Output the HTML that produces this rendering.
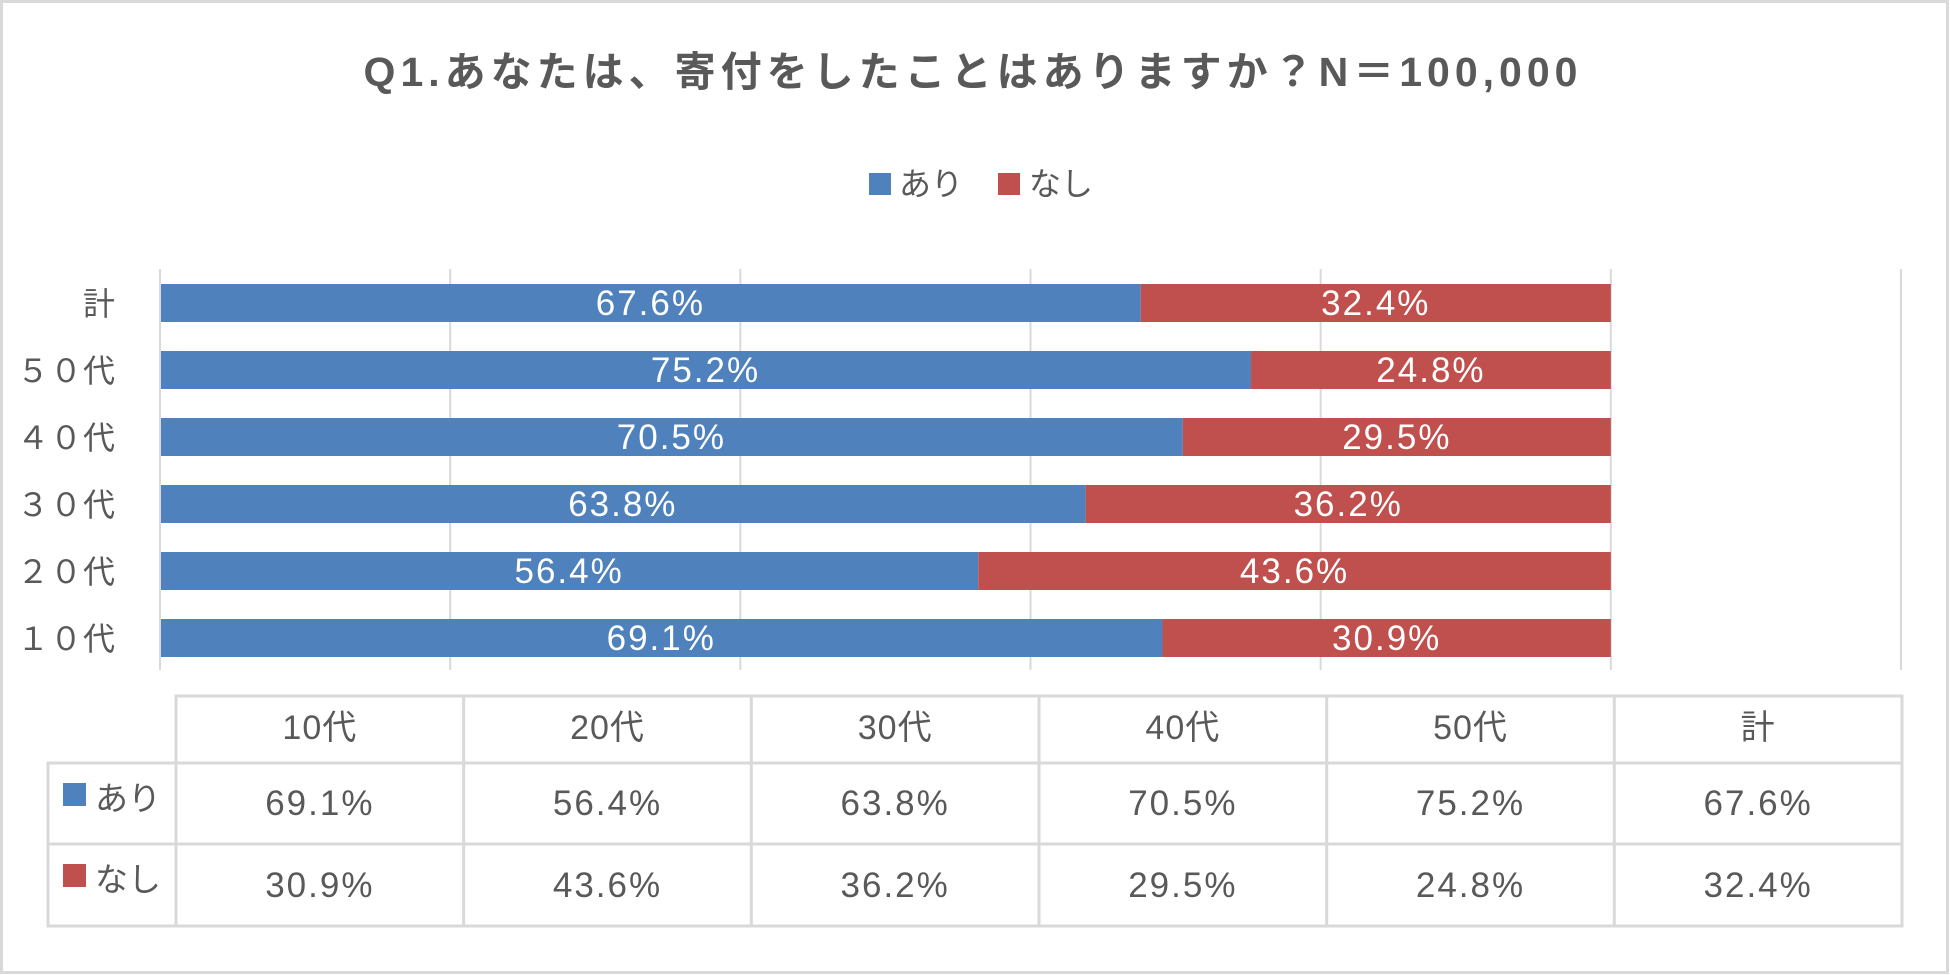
<!DOCTYPE html>
<html><head><meta charset="utf-8">
<style>
html,body{margin:0;padding:0;background:#fff;}
svg{display:block;font-family:"Liberation Sans","Noto Sans CJK JP",sans-serif;}
</style></head>
<body>
<svg id="chart" width="1950" height="975" viewBox="0 0 1950 975">
<rect x="1.5" y="1.5" width="1946" height="971" fill="#fff" stroke="#d9d9d9" stroke-width="3"/>
<text x="973" y="86" text-anchor="middle" font-size="41" font-weight="bold" fill="#595959" letter-spacing="5">Q1.あなたは、寄付をしたことはありますか？N＝100,000</text>
<g>
<rect x="869" y="173" width="22" height="22" fill="#4f81bd"/>
<text x="899" y="195" font-size="32" fill="#595959">あり</text>
<rect x="998" y="173" width="22" height="22" fill="#c0504d"/>
<text x="1029" y="195" font-size="32" fill="#595959">なし</text>
</g>
<g id="grid"></g>
<g id="bars"></g>
<g id="table"></g>
</svg>
<script>
const categories = ["計","５０代","４０代","３０代","２０代","１０代"];
const ariValues = [67.6,75.2,70.5,63.8,56.4,69.1];
const nashiValues = [32.4,24.8,29.5,36.2,43.6,30.9];
const tableCategories = ["10代","20代","30代","40代","50代","計"];
const tableAri = [69.1,56.4,63.8,70.5,75.2,67.6];
const tableNashi = [30.9,43.6,36.2,29.5,24.8,32.4];
const xTicks = [0,20,40,60,80,100,120];

const NS="http://www.w3.org/2000/svg";
const x0=160, x1=1901, xMax=120;
function xScale(v){return x0+(x1-x0)*v/xMax;}
const yTop=269, yBot=670, firstCenter=303, pitch=67, barH=38;
function yScale(i){return firstCenter+i*pitch;}
function mk(tag,attrs,parent){const e=document.createElementNS(NS,tag);for(const k in attrs)e.setAttribute(k,attrs[k]);parent.appendChild(e);return e;}

const grid=document.getElementById('grid');
xTicks.forEach(t=>{
  const l=mk('line',{x1:xScale(t),x2:xScale(t),y1:yTop,y2:yBot,stroke:'#d9d9d9','stroke-width':2},grid);
  
  
});

const bars=document.getElementById('bars');
const vf=35, vls='2';
categories.forEach((c,i)=>{
  const cy=yScale(i);
  const lab=mk('text',{x:116,y:cy+12,'text-anchor':'end','font-size':32,fill:'#595959','letter-spacing':'1'},bars);
  lab.textContent=c;
  
  
  const a=ariValues[i], n=nashiValues[i];
  const r1=mk('rect',{x:xScale(0)+1,y:cy-barH/2,width:xScale(a)-xScale(0)-1,height:barH,fill:'#4f81bd'},bars);
  
  
  const r2=mk('rect',{x:xScale(a),y:cy-barH/2,width:xScale(a+n)-xScale(a),height:barH,fill:'#c0504d'},bars);
  
  
  const t1=mk('text',{x:(xScale(0)+xScale(a))/2,y:cy+12,'text-anchor':'middle','font-size':vf,'letter-spacing':vls,fill:'#fff'},bars);
  t1.textContent=a.toFixed(1)+'%';
  
  
  const t2=mk('text',{x:(xScale(a)+xScale(a+n))/2,y:cy+12,'text-anchor':'middle','font-size':vf,'letter-spacing':vls,fill:'#fff'},bars);
  t2.textContent=n.toFixed(1)+'%';
  
  
});

const tb=document.getElementById('table');
const tL=48, cL=176, tR=1902, rows=[696,763,844,926];
const cw=(tR-cL)/tableCategories.length;
const st={stroke:'#d9d9d9','stroke-width':3,fill:'none'};
const hdr=mk('rect',Object.assign({x:cL,y:rows[0],width:tR-cL,height:rows[1]-rows[0]},st),tb);


const body=mk('rect',Object.assign({x:tL,y:rows[1],width:tR-tL,height:rows[3]-rows[1]},st),tb);


const hl=mk('line',{x1:tL,x2:tR,y1:rows[2],y2:rows[2],stroke:'#d9d9d9','stroke-width':3},tb);


for(let j=0;j<tableCategories.length;j++){
  const vl=mk('line',{x1:cL+j*cw,x2:cL+j*cw,y1:rows[0],y2:rows[3],stroke:'#d9d9d9','stroke-width':3},tb);
  
  
  const cx=cL+(j+0.5)*cw;
  const h=mk('text',{x:cx,y:739,'text-anchor':'middle','font-size':34,'letter-spacing':'1',fill:'#595959'},tb);
  h.textContent=tableCategories[j];
  
  
  const v1=mk('text',{x:cx,y:815,'text-anchor':'middle','font-size':vf,'letter-spacing':vls,fill:'#595959'},tb);
  v1.textContent=tableAri[j].toFixed(1)+'%';
  
  
  const v2=mk('text',{x:cx,y:897,'text-anchor':'middle','font-size':vf,'letter-spacing':vls,fill:'#595959'},tb);
  v2.textContent=tableNashi[j].toFixed(1)+'%';
  
  
}
const s1=mk('rect',{x:63,y:783,width:23,height:23,fill:'#4f81bd'},tb);


const l1=mk('text',{x:95,y:810,'font-size':33,fill:'#595959'},tb);
l1.textContent='あり';


const s2=mk('rect',{x:63,y:864,width:23,height:23,fill:'#c0504d'},tb);


const l2=mk('text',{x:95,y:891,'font-size':33,fill:'#595959'},tb);
l2.textContent='なし';


</script>
</body></html>
